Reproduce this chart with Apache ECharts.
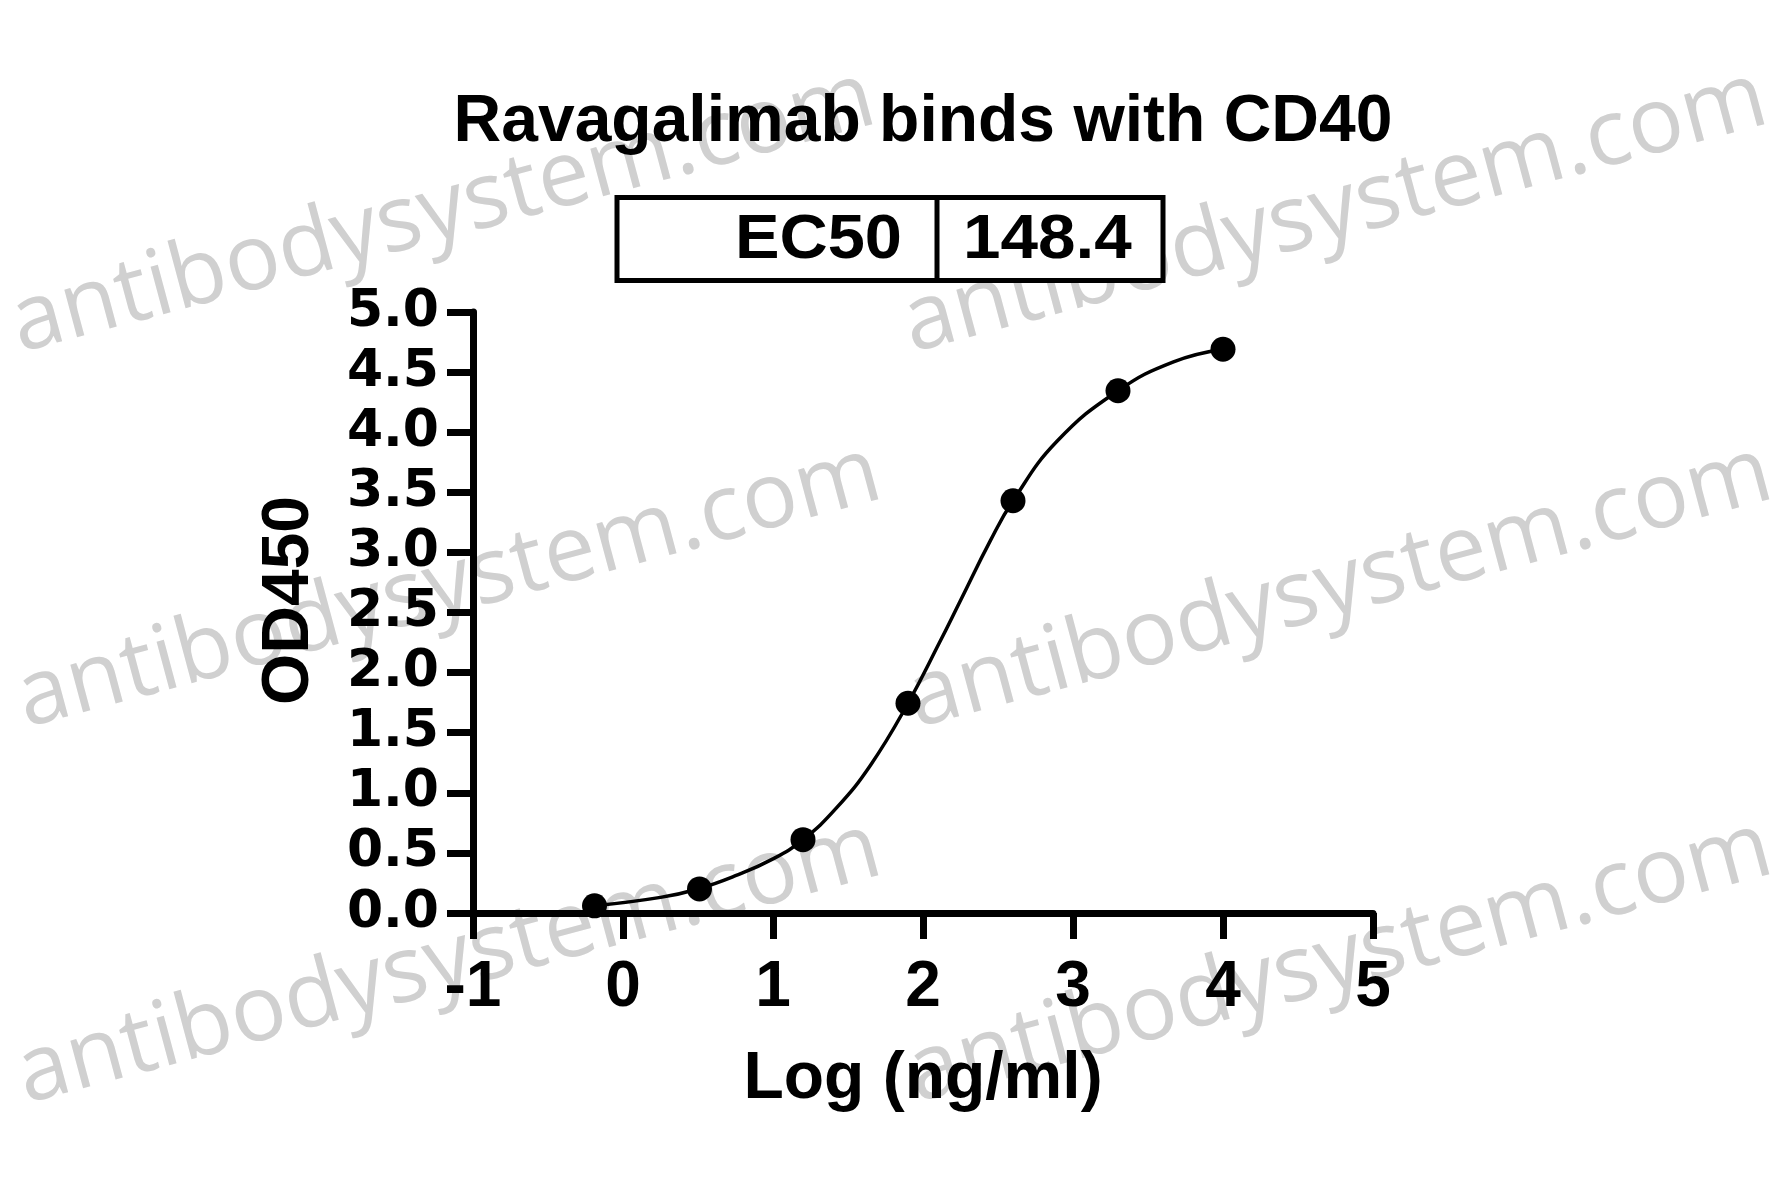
<!DOCTYPE html>
<html>
<head>
<meta charset="utf-8">
<script src="https://cdn.jsdelivr.net/npm/echarts@6/dist/echarts.min.js"></script>
<style>
html,body{margin:0;padding:0;background:#fff;}
#c{width:1781px;height:1197px;}
</style>
</head>
<body>
<div id="c"></div>
<script>
// Measured points (log concentration, OD450)
const logConc = [-0.19, 0.51, 1.2, 1.9, 2.6, 3.3, 4.0];
const od450 = [0.06, 0.20, 0.61, 1.745, 3.43, 4.345, 4.69];
// Fitted curve
const curveX = [-0.19, 0.25, 0.5, 0.75, 1.0, 1.2, 1.42, 1.65, 1.9, 2.11, 2.25, 2.45, 2.6, 2.89, 3.3, 3.67, 4.0];
const curveY = [0.06, 0.13, 0.20, 0.31, 0.45, 0.61, 0.87, 1.23, 1.745, 2.25, 2.6, 3.1, 3.43, 3.92, 4.345, 4.585, 4.69];
const xTicks = [-1, 0, 1, 2, 3, 4, 5];
const yTicks = [0, 0.5, 1, 1.5, 2, 2.5, 3, 3.5, 4, 4.5, 5];
const titleText = 'Ravagalimab binds with CD40';
const ec50Label = 'EC50';
const ec50Value = '148.4';
const xName = 'Log (ng/ml)';
const yName = 'OD450';
const watermarkText = 'antibodysystem.com';

const chart = echarts.init(document.getElementById('c'), null, {renderer: 'canvas'});

const wmPos = [[443, 212], [1335, 212], [449, 587], [1340, 587], [449, 963], [1340, 962]];
const graphics = wmPos.map(p => ({
  type: 'text', x: p[0], y: p[1], rotation: 0.262, z: -10, silent: true,
  style: {text: watermarkText, align: 'center', verticalAlign: 'middle',
    font: '92px "Open Sans"', fill: '#d0d0d0'}
}));
graphics.push(
  {type: 'rect', shape: {x: 617, y: 197.5, width: 546, height: 83}, z: 5,
   style: {fill: '#fff', stroke: '#000', lineWidth: 5}},
  {type: 'line', shape: {x1: 937, y1: 197.5, x2: 937, y2: 280.5}, z: 6,
   style: {stroke: '#000', lineWidth: 5}},
  {type: 'text', x: 902, y: 241, scaleX: 1.06, z: 7,
   style: {text: ec50Label, align: 'right', verticalAlign: 'middle',
     font: 'bold 63px "Liberation Sans", Arial', fill: '#000'}},
  {type: 'text', x: 963, y: 241, scaleX: 1.07, z: 7,
   style: {text: ec50Value, align: 'left', verticalAlign: 'middle',
     font: 'bold 63px "Liberation Sans", Arial', fill: '#000'}}
);

const option = {
  backgroundColor: '#ffffff',
  animation: false,
  title: {
    text: titleText, left: 923, top: 90, textAlign: 'center', padding: 0,
    textStyle: {fontFamily: '"Liberation Sans", Arial', fontWeight: 'bold', fontSize: 66, color: '#000'}
  },
  graphic: graphics,
  grid: {left: 473, right: 408, top: 312, bottom: 284, containLabel: false},
  xAxis: {
    type: 'value', min: xTicks[0], max: xTicks[xTicks.length - 1], interval: 1,
    name: xName, nameLocation: 'middle', nameGap: 134,
    nameTextStyle: {fontFamily: '"Liberation Sans", Arial', fontWeight: 'bold', fontSize: 66, color: '#000'},
    axisLine: {onZero: false, lineStyle: {color: '#000', width: 7}},
    axisTick: {length: 26, lineStyle: {color: '#000', width: 7}},
    axisLabel: {margin: 43, color: '#000', fontFamily: '"Liberation Sans", Arial', fontWeight: 'bold', fontSize: 64,
      formatter: v => String(v)},
    splitLine: {show: false}
  },
  yAxis: {
    type: 'value', min: yTicks[0], max: yTicks[yTicks.length - 1], interval: 0.5,
    name: yName, nameLocation: 'middle', nameGap: 150,
    nameTextStyle: {fontFamily: '"Liberation Sans", Arial', fontWeight: 'bold', fontSize: 66, color: '#000', padding: [0, 0, 0, 24]},
    axisLine: {onZero: false, lineStyle: {color: '#000', width: 7}},
    axisTick: {length: 26, lineStyle: {color: '#000', width: 7}},
    axisLabel: {margin: 34, color: '#000', fontFamily: '"DejaVu Sans"', fontWeight: 'bold', fontSize: 52,
      formatter: v => v.toFixed(1)},
    splitLine: {show: false}
  },
  series: [
    {
      type: 'line', data: curveX.map((x, i) => [x, curveY[i]]), smooth: 0.45,
      showSymbol: false, lineStyle: {color: '#000', width: 3.5}, z: 3, silent: true
    },
    {
      type: 'scatter', data: logConc.map((x, i) => [x, od450[i]]), symbol: 'circle', symbolSize: 25,
      itemStyle: {color: '#000', opacity: 1}, z: 4
    }
  ]
};
chart.setOption(option);
</script>
</body>
</html>
